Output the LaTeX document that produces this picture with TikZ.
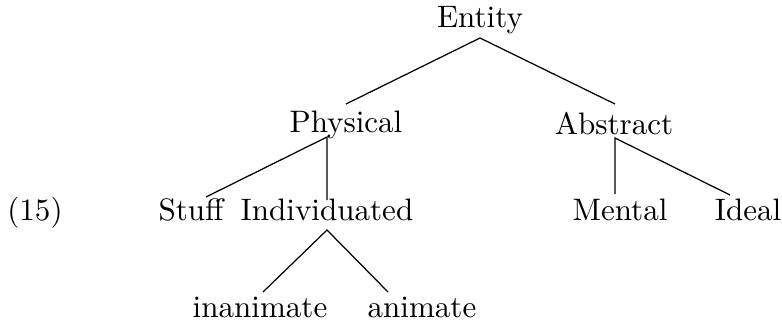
\documentclass[tikz,border=0pt]{standalone}
\usetikzlibrary{calc}
\begin{document}
\begin{tikzpicture}[x=0.322pt,y=-0.322pt,
  lbl/.style={anchor=base,inner sep=0pt,font=\normalsize},
  edge/.style={line width=0.4pt}]
\useasboundingbox (0,0) rectangle (782,324);
\node[lbl] (num) at (35,221) {(15)};
\node[lbl] (entity) at (480,27) {Entity};
\node[lbl] (physical) at (346,132) {Physical};
\node[lbl] (abstract) at (614,134) {Abstract};
\node[lbl] (stuff) at (191,221) {Stuff};
\node[lbl] (indiv) at (327,221) {Individuated};
\node[lbl] (mental) at (620,220) {Mental};
\node[lbl] (ideal) at (748,220) {Ideal};
\node[lbl] (inan) at (260,317) {inanimate};
\node[lbl] (anim) at (422,317) {animate};
\draw[edge] ($(physical.base)+(0,-28)$) -- ($(entity.base)+(0,11)$) -- ($(abstract.base)+(1,-30)$);
\draw[edge] ($(stuff.base)+(15,-24)$) -- ($(physical.base)+(-19,5)$) -- ($(indiv.base)+(0,-21)$);
\draw[edge] ($(mental.base)+(-5,-26)$) -- ($(abstract.base)+(1,4)$) -- ($(ideal.base)+(-18,-25)$);
\draw[edge] ($(inan.base)+(3,-25)$) -- ($(indiv.base)+(0,9)$) -- ($(anim.base)+(-34,-25)$);
\end{tikzpicture}
\end{document}
